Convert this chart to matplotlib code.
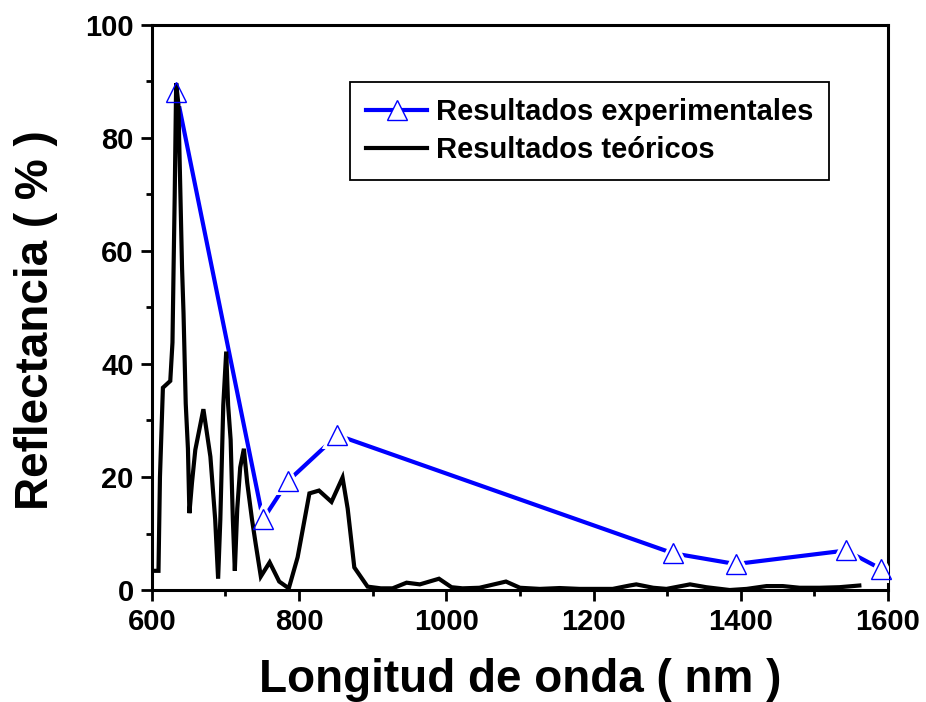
import matplotlib
matplotlib.use("Agg")
import matplotlib.pyplot as plt
from matplotlib.lines import Line2D
from matplotlib.ticker import MultipleLocator

plt.rcParams['font.family'] = ['Liberation Sans', 'DejaVu Sans']
plt.rcParams['font.weight'] = 'bold'

# Experimental results
exp_wl = [633, 751, 785, 852, 1308, 1393, 1543, 1591]
exp_r = [88.2, 12.5, 19.3, 27.4, 6.5, 4.6, 7.0, 3.7]

# Theoretical results
teo_wl = [600, 609, 611, 615, 625, 628, 629.5, 631, 633, 636, 638.6, 641, 643, 646, 649,
          651, 654.5, 659, 670, 679.5, 686, 690, 693, 697, 701, 703.6, 707, 710, 712.7,
          716, 720, 725, 729.5, 736, 741, 748, 760, 773, 786, 798, 814, 827, 844, 859,
          866, 875, 893, 911, 927, 946, 964, 990, 1007, 1022, 1045, 1081, 1100, 1127,
          1154, 1181, 1208, 1226, 1249, 1258, 1281, 1299, 1331, 1353, 1385, 1408, 1435,
          1457, 1480, 1507, 1534, 1561]
teo_r = [3.4, 3.4, 20.0, 35.8, 37.0, 43.8, 57.0, 69.5, 89.7, 86.0, 71.0, 57.0, 49.0, 33.0, 25.0,
         13.6, 19.0, 24.8, 32.0, 23.6, 12.5, 2.0, 12.5, 32.7, 42.2, 32.7, 26.6, 12.5, 3.4,
         14.4, 21.7, 25.0, 19.0, 12.5, 8.2, 2.4, 4.9, 1.5, 0.3, 5.8, 17.1, 17.6, 15.6, 19.9,
         14.4, 4.0, 0.6, 0.3, 0.3, 1.3, 1.0, 2.0, 0.5, 0.3, 0.4, 1.5, 0.4, 0.2,
         0.35, 0.2, 0.2, 0.2, 0.8, 1.0, 0.4, 0.2, 1.0, 0.5, 0.0, 0.2, 0.7,
         0.7, 0.4, 0.4, 0.5, 0.8]

fig = plt.figure(figsize=(9.26, 7.02), dpi=100)
ax = fig.add_axes([0.164, 0.1595, 0.795, 0.805])

blue = '#0000ff'
ax.plot(exp_wl, exp_r, color=blue, lw=3, zorder=2, solid_capstyle='butt')
ax.plot(exp_wl, exp_r, ls='none', marker='^', ms=15, mfc='white', mec='white', mew=5, zorder=3)
ax.plot(teo_wl, teo_r, color='black', lw=3, zorder=4, solid_joinstyle='miter')
ax.plot(exp_wl, exp_r, ls='none', marker='^', ms=15, mfc='none', mec=blue, mew=1.0, zorder=5,
        clip_on=False)

ax.set_xlim(600, 1600)
ax.set_ylim(0, 100)
ax.xaxis.set_major_locator(MultipleLocator(200))
ax.xaxis.set_minor_locator(MultipleLocator(100))
ax.yaxis.set_major_locator(MultipleLocator(20))
ax.yaxis.set_minor_locator(MultipleLocator(10))
ax.tick_params(which='major', direction='out', length=8, width=2, labelsize=21, pad=5)
ax.tick_params(which='minor', direction='out', length=4, width=2)
for lbl in ax.get_xticklabels() + ax.get_yticklabels():
    lbl.set_fontweight('bold')
for s in ax.spines.values():
    s.set_linewidth(2.2)

ax.set_xlabel('Longitud de onda ( nm )', fontsize=33, fontweight='bold', labelpad=16)
ax.set_ylabel('Reflectancia ( % )', fontsize=33, fontweight='bold')
ax.yaxis.set_label_coords(-0.128, 0.478)

h1 = Line2D([], [], color=blue, lw=3, marker='^', ms=14, mfc='white', mec=blue, mew=1.0)
h2 = Line2D([], [], color='black', lw=3)
leg = ax.legend([h1, h2], ['Resultados experimentales', 'Resultados teóricos'],
                loc='upper left', bbox_to_anchor=(0.269, 0.899), fancybox=False,
                edgecolor='black', framealpha=1, handlelength=2.1, handletextpad=0.3,
                borderpad=0.55, borderaxespad=0, labelspacing=0.35,
                prop={'size': 21, 'weight': 'bold'})
leg.get_frame().set_linewidth(1.3)

fig.savefig('out.png', dpi=100)
